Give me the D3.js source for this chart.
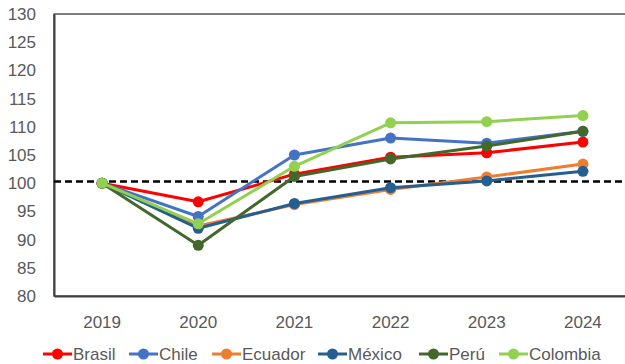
<!DOCTYPE html>
<html>
<head>
<meta charset="utf-8">
<script src="https://cdn.jsdelivr.net/npm/d3@7"></script>
<style>
  body { margin: 0; background: #fff; }
  svg text { font-family: "Liberation Sans", Arial, sans-serif; fill: #595959; }
</style>
</head>
<body>
<svg id="chart" width="625" height="364"></svg>
<script>
// Índice (2019 = 100)
const years = ["2019", "2020", "2021", "2022", "2023", "2024"];
const yTicks = [80, 85, 90, 95, 100, 105, 110, 115, 120, 125, 130];
const baseline = 100.3;

const brasil   = [100, 96.7, 101.6, 104.6, 105.4, 107.3];
const chile    = [100, 94.1, 105.0, 108.0, 107.1, 109.2];
const ecuador  = [100, 92.4, 96.2, 98.9, 101.1, 103.4];
const mexico   = [100, 92.0, 96.4, 99.2, 100.4, 102.1];
const peru     = [100, 89.0, 101.2, 104.3, 106.6, 109.2];
const colombia = [100, 92.8, 103.0, 110.7, 110.9, 112.0];

const seriesNames  = ["Brasil", "Chile", "Ecuador", "México", "Perú", "Colombia"];
const seriesValues = [brasil, chile, ecuador, mexico, peru, colombia];
const seriesColors = ["#FF0000", "#4472C4", "#ED7D31", "#255E91", "#43682B", "#92D050"];

const series = seriesNames.map((name, i) => ({
  name, color: seriesColors[i],
  values: seriesValues[i].map((v, j) => ({ year: years[j], value: v }))
}));

const svg = d3.select("#chart");
const plotLeft = 54, plotTop = 14, plotRight = 631, plotBottom = 296;

const x = d3.scaleBand().domain(years).range([plotLeft, plotRight]);
const y = d3.scaleLinear().domain([80, 130]).range([plotBottom, plotTop]);

// Plot frame
svg.append("rect")
  .attr("x", plotLeft).attr("y", plotTop)
  .attr("width", plotRight - plotLeft).attr("height", plotBottom - plotTop)
  .attr("fill", "none").attr("stroke", "#000").attr("stroke-width", 1);

// Y axis
const yAxis = svg.append("g")
  .attr("transform", `translate(${plotLeft},0)`)
  .call(d3.axisLeft(y).tickValues(yTicks).tickSize(0).tickPadding(18));
yAxis.select(".domain").attr("stroke", "#404040").attr("stroke-width", 2);
yAxis.selectAll("text").style("font-size", "17px").attr("fill", "#595959");

// X axis
const xAxis = svg.append("g")
  .attr("transform", `translate(0,${plotBottom})`)
  .call(d3.axisBottom(x).tickSize(0).tickPadding(20));
xAxis.select(".domain").attr("stroke", "#404040").attr("stroke-width", 2);
xAxis.selectAll("text").style("font-size", "17px").attr("fill", "#595959");

// Reference line
svg.append("line")
  .attr("x1", plotLeft).attr("x2", plotRight)
  .attr("y1", y(baseline)).attr("y2", y(baseline))
  .attr("stroke", "#000").attr("stroke-width", 2.5)
  .attr("stroke-dasharray", "7,4");

const cx = d => x(d.year) + x.bandwidth() / 2;
const line = d3.line().x(cx).y(d => y(d.value));

const g = svg.selectAll("g.series").data(series).join("g").attr("class", "series");
g.append("path")
  .attr("d", d => line(d.values))
  .attr("fill", "none")
  .attr("stroke", d => d.color)
  .attr("stroke-width", 3)
  .attr("stroke-linejoin", "round");
g.selectAll("circle").data(d => d.values.map(v => ({ ...v, color: d.color })))
  .join("circle")
  .attr("cx", cx).attr("cy", d => y(d.value))
  .attr("r", 5.5).attr("fill", d => d.color);

// Legend
const legendX = [43, 129, 212, 318, 419, 499];
const ly = 354;
const lg = svg.selectAll("g.legend").data(series).join("g")
  .attr("class", "legend")
  .attr("transform", (d, i) => `translate(${legendX[i]},${ly})`);
lg.append("line").attr("x1", 0).attr("x2", 29).attr("y1", 0).attr("y2", 0)
  .attr("stroke", d => d.color).attr("stroke-width", 3);
lg.append("circle").attr("cx", 14.5).attr("cy", 0).attr("r", 5.5).attr("fill", d => d.color);
lg.append("text").attr("x", 30).attr("y", 0).attr("dy", "0.35em")
  .style("font-size", "17px").text(d => d.name);
</script>
</body>
</html>
